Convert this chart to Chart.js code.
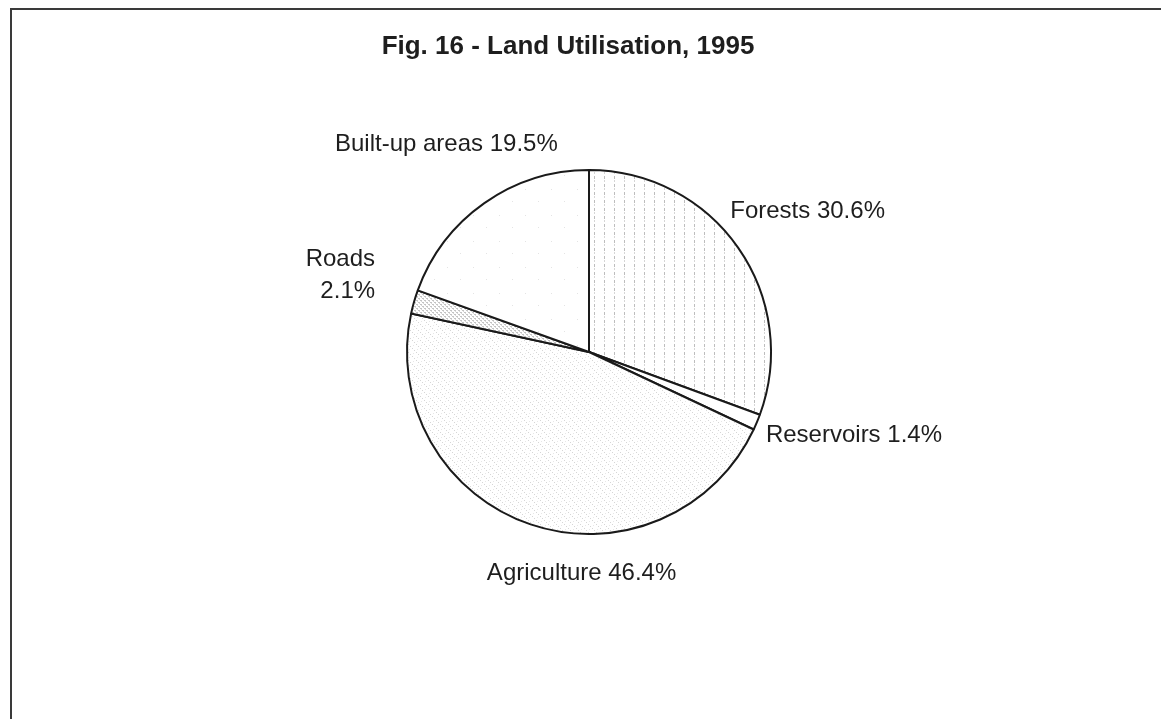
<!DOCTYPE html>
<html>
<head>
<meta charset="utf-8">
<title>Fig. 16 - Land Utilisation, 1995</title>
<script src="https://cdn.jsdelivr.net/npm/chart.js@4.4.1/dist/chart.umd.min.js"></script>
<style>
  html, body { margin: 0; padding: 0; background: #fff; }
  #wrap { position: relative; width: 1161px; height: 719px; }
</style>
</head>
<body>
<div id="wrap"><canvas id="landChart"></canvas></div>
<script>
// Datos de la figura
const chartTitle = 'Fig. 16 - Land Utilisation, 1995';
const categories = ['Forests', 'Reservoirs', 'Agriculture', 'Roads', 'Built-up areas'];
const shares = [30.6, 1.4, 46.4, 2.1, 19.5];

// Posición de cada etiqueta respecto al borde del sector
const labelLayout = [
    { dx: -8, dy: -36, align: 'left', split: false },
    { dx: 9, dy: 13, align: 'left', split: false },
    { dx: 51, dy: 49, align: 'center', split: false },
    { dx: -39, dy: -42, align: 'right', split: true },
    { dx: -38, dy: -59, align: 'center', split: false }
];

const FONT = '"Liberation Sans", Arial, sans-serif';

// Tramas tipo escáner
function makePattern(w, h, draw) {
    const c = document.createElement('canvas');
    c.width = w; c.height = h;
    const g = c.getContext('2d');
    g.fillStyle = '#fff';
    g.fillRect(0, 0, w, h);
    draw(g);
    return g.createPattern(c, 'repeat');
}

const forestFill = makePattern(10, 8, g => {
    g.fillStyle = '#bdbdbd';
    g.fillRect(4, 0, 1, 3);
    g.fillStyle = '#d6d6d6';
    g.fillRect(4, 4, 1, 2);
});
const agriFill = makePattern(8, 8, g => {
    g.fillStyle = '#d6d6d6';
    g.fillRect(0, 0, 1, 1);
    g.fillRect(2, 2, 1, 1);
    g.fillRect(4, 4, 1, 1);
    g.fillRect(6, 6, 1, 1);
    g.fillStyle = '#e8e8e8';
    g.fillRect(5, 1, 1, 1);
    g.fillRect(1, 5, 1, 1);
});
const roadFill = makePattern(4, 4, g => {
    g.fillStyle = '#c4c4c4';
    g.fillRect(0, 0, 2, 1);
    g.fillRect(2, 2, 2, 1);
    g.fillStyle = '#d8d8d8';
    g.fillRect(1, 1, 1, 1);
    g.fillRect(3, 3, 1, 1);
});
const builtFill = makePattern(26, 26, g => {
    g.fillStyle = '#e4e4e4';
    g.fillRect(5, 7, 1, 1);
    g.fillRect(18, 19, 1, 1);
});

const fills = [forestFill, '#ffffff', agriFill, roadFill, builtFill];

// Marco y título
const framePlugin = {
    id: 'frame',
    beforeDraw(chart) {
        const ctx = chart.ctx;
        ctx.save();
        ctx.fillStyle = '#fff';
        ctx.fillRect(0, 0, chart.width, chart.height);
        ctx.strokeStyle = '#3a3a3a';
        ctx.lineWidth = 2;
        ctx.beginPath();
        ctx.moveTo(11, chart.height + 2);
        ctx.lineTo(11, 9);
        ctx.lineTo(chart.width + 2, 9);
        ctx.stroke();
        ctx.fillStyle = '#1e1e1e';
        ctx.font = 'bold 26px ' + FONT;
        ctx.textAlign = 'center';
        ctx.textBaseline = 'middle';
        ctx.fillText(chartTitle, 568, 47);
        ctx.restore();
    }
};

// Etiquetas de sectores
const sliceLabels = {
    id: 'sliceLabels',
    afterDatasetsDraw(chart) {
        const ctx = chart.ctx;
        const meta = chart.getDatasetMeta(0);
        ctx.save();
        ctx.fillStyle = '#1e1e1e';
        ctx.font = '24px ' + FONT;
        ctx.textBaseline = 'middle';
        meta.data.forEach((arc, i) => {
            const p = arc.getProps(['x', 'y', 'startAngle', 'endAngle', 'outerRadius'], true);
            const mid = (p.startAngle + p.endAngle) / 2;
            const ax = p.x + Math.cos(mid) * p.outerRadius;
            const ay = p.y + Math.sin(mid) * p.outerRadius;
            const lay = labelLayout[i];
            const lines = lay.split
                ? [categories[i], shares[i] + '%']
                : [categories[i] + ' ' + shares[i] + '%'];
            ctx.textAlign = lay.align;
            lines.forEach((t, k) => ctx.fillText(t, ax + lay.dx, ay + lay.dy + k * 32));
        });
        ctx.restore();
    }
};

const chart = new Chart(document.getElementById('landChart'), {
    type: 'pie',
    data: {
        labels: categories,
        datasets: [{
            data: shares,
            backgroundColor: fills,
            borderColor: '#1a1a1a',
            borderWidth: 2,
            hoverOffset: 0
        }]
    },
    options: {
        responsive: true,
        maintainAspectRatio: false,
        devicePixelRatio: 1,
        animation: false,
        radius: 182,
        layout: { padding: { left: 17, right: 0, top: 0, bottom: 15 } },
        plugins: {
            legend: { display: false },
            tooltip: { enabled: false },
            title: { display: false }
        },
        events: []
    },
    plugins: [framePlugin, sliceLabels]
});
</script>
</body>
</html>
